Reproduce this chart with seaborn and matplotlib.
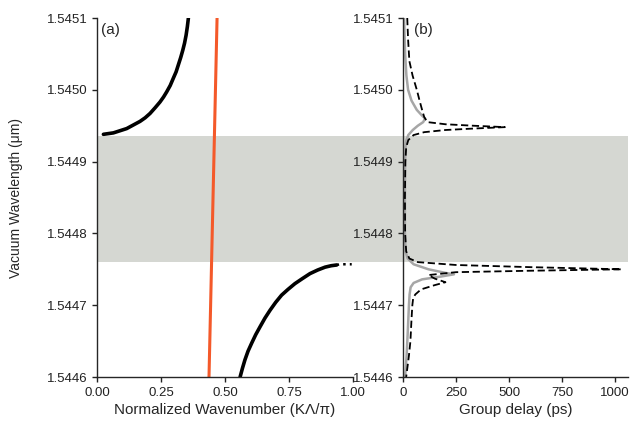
import numpy as np
import matplotlib
matplotlib.use("Agg")
import matplotlib.pyplot as plt
import matplotlib.transforms as mtransforms
from matplotlib.patches import Rectangle
import seaborn as sns

# ---- data ----
# (a) dispersion: upper branch, lower branch, light line
upper_k = [0.025, 0.064, 0.09, 0.116, 0.142, 0.168, 0.188, 0.207, 0.227, 0.246, 0.26,
           0.272, 0.286, 0.298, 0.309, 0.318, 0.327, 0.335, 0.342, 0.348, 0.353, 0.357]
upper_lam = [1.544938, 1.544940, 1.544943, 1.544946, 1.544951, 1.544956, 1.544961,
             1.544967, 1.544975, 1.544983, 1.544990, 1.544997, 1.545006, 1.545016,
             1.545025, 1.545035, 1.545045, 1.545055, 1.545065, 1.545076, 1.545088, 1.5451]
lower_k = [0.559, 0.568, 0.578, 0.59, 0.604, 0.62, 0.637, 0.656, 0.676, 0.698, 0.721,
           0.746, 0.773, 0.802, 0.832, 0.862, 0.891, 0.915, 0.936]
lower_lam = [1.544600, 1.544612, 1.544624, 1.544636, 1.544647, 1.544659, 1.544670,
             1.544682, 1.544693, 1.544704, 1.544714, 1.544722, 1.544730, 1.544737,
             1.544744, 1.544749, 1.544753, 1.544755, 1.544756]
tail_k = [0.936, 0.949, 0.969, 0.995]
tail_lam = [1.544756, 1.544757, 1.544757, 1.544757]
light_k = [0.4375, 0.469]
light_lam = [1.5446, 1.5451]

# (b) group delay, solid gray curve
gray_lam = [1.5451, 1.54505, 1.54502, 1.5450, 1.544985, 1.544972, 1.544964, 1.54496,
            1.544955, 1.54495, 1.544944, 1.544937, 1.54493, 1.54492, 1.5449, 1.54485,
            1.5448, 1.544775, 1.544765, 1.544757, 1.54475, 1.544745, 1.544743, 1.54474,
            1.544736, 1.544731, 1.544725, 1.544715, 1.5447, 1.54466, 1.54463, 1.5446]
gray_delay = [5, 10, 16, 24, 40, 65, 90, 104,
              95, 70, 46, 25, 16, 12, 10, 9,
              9, 12, 22, 50, 120, 200, 240, 180,
              90, 50, 36, 31, 28, 22, 17, 10]

# (b) group delay, dashed curve
dash_lam = [1.5451, 1.54507, 1.54504, 1.54502, 1.5450, 1.544985, 1.544972, 1.544962,
            1.544955, 1.544952, 1.54495, 1.544948, 1.544946, 1.544944, 1.544941,
            1.544937, 1.54493, 1.54492, 1.5449, 1.54485, 1.5448, 1.544775, 1.544765,
            1.54476, 1.544756, 1.544753, 1.54475, 1.544748, 1.544746, 1.544742,
            1.544737, 1.544732, 1.544728, 1.544722, 1.544715, 1.54471, 1.5447,
            1.54468, 1.54465, 1.54463, 1.5446]
dash_delay = [20, 24, 30, 45, 65, 78, 90, 100,
              115, 200, 330, 480, 330, 200, 100,
              50, 25, 15, 11, 9, 10, 15, 30,
              70, 250, 600, 1030, 600, 250, 120,
              150, 200, 150, 85, 58, 48, 44,
              40, 35, 28, 15]

lam_ticks = [1.5446, 1.5447, 1.5448, 1.5449, 1.5450, 1.5451]
lam_labels = ["1.5446", "1.5447", "1.5448", "1.5449", "1.5450", "1.5451"]
k_ticks = [0.0, 0.25, 0.5, 0.75, 1.0]
k_labels = ["0.00", "0.25", "0.50", "0.75", "1.00"]
delay_ticks = [0, 250, 500, 750, 1000]
gap_lam = (1.54476, 1.544936)

# ---- style ----
sns.set_style("ticks")
plt.rcParams["font.family"] = ["Liberation Sans", "DejaVu Sans"]
plt.rcParams["axes.linewidth"] = 1.0
plt.rcParams["xtick.major.width"] = 1.0
plt.rcParams["ytick.major.width"] = 1.0
plt.rcParams["xtick.major.size"] = 3.5
plt.rcParams["ytick.major.size"] = 3.5
plt.rcParams["xtick.color"] = "#222222"
plt.rcParams["ytick.color"] = "#222222"

fig = plt.figure(figsize=(6.42, 4.24), dpi=100)
W, H = 642, 424
ax1 = fig.add_axes([97 / W, (H - 377) / H, 256 / W, 359 / H])
ax2 = fig.add_axes([403 / W, (H - 377) / H, 225 / W, 359 / H])

for ax in (ax1, ax2):
    ax.set_facecolor("none")
    ax.set_ylim(1.5446, 1.5451)
    ax.set_yticks(lam_ticks)
    ax.set_yticklabels(lam_labels, fontsize=9.5)
    for s in ("top", "right"):
        ax.spines[s].set_visible(False)

# band gap shading, spanning both panels
trans = mtransforms.blended_transform_factory(fig.transFigure, ax1.transData)
x0 = ax1.get_position().x0
x1 = ax2.get_position().x1
fig.add_artist(Rectangle((x0, gap_lam[0]), x1 - x0, gap_lam[1] - gap_lam[0],
                         transform=trans, facecolor="#d5d7d2", edgecolor="none", zorder=-1))

# panel (a)
sns.lineplot(x=upper_k, y=upper_lam, ax=ax1, sort=False, estimator=None, color="black", lw=2.6)
sns.lineplot(x=lower_k, y=lower_lam, ax=ax1, sort=False, estimator=None, color="black", lw=2.6)
sns.lineplot(x=tail_k, y=tail_lam, ax=ax1, sort=False, estimator=None, color="black", lw=1.8, ls=":")
sns.lineplot(x=light_k, y=light_lam, ax=ax1, sort=False, estimator=None, color="#f4592a", lw=2.2)
ax1.set_xlim(0, 1)
ax1.set_xticks(k_ticks)
ax1.set_xticklabels(k_labels, fontsize=9.5)
ax1.set_xlabel("Normalized Wavenumber (K\u039b/\u03c0)", fontsize=11, labelpad=3)
ax1.set_ylabel("Vacuum Wavelength (\u03bcm)", fontsize=10)
ax1.yaxis.set_label_coords(-0.29, 0.5)
ax1.text(0.015, 0.985, "(a)", transform=ax1.transAxes, fontsize=11, va="top", ha="left")

# panel (b)
sns.lineplot(x=gray_delay, y=gray_lam, ax=ax2, sort=False, estimator=None, color="#a6a6a6", lw=1.8)
ax2.plot(dash_delay, dash_lam, color="black", lw=1.3, ls=(0, (4, 2)))
ax2.set_xlim(0, 1060)
ax2.set_xticks(delay_ticks)
ax2.set_xticklabels([str(t) for t in delay_ticks], fontsize=9.5)
ax2.set_xlabel("Group delay (ps)", fontsize=11, labelpad=3)
ax2.set_ylabel("")
ax2.text(0.05, 0.985, "(b)", transform=ax2.transAxes, fontsize=11, va="top", ha="left")

fig.savefig("out.png", dpi=100)
